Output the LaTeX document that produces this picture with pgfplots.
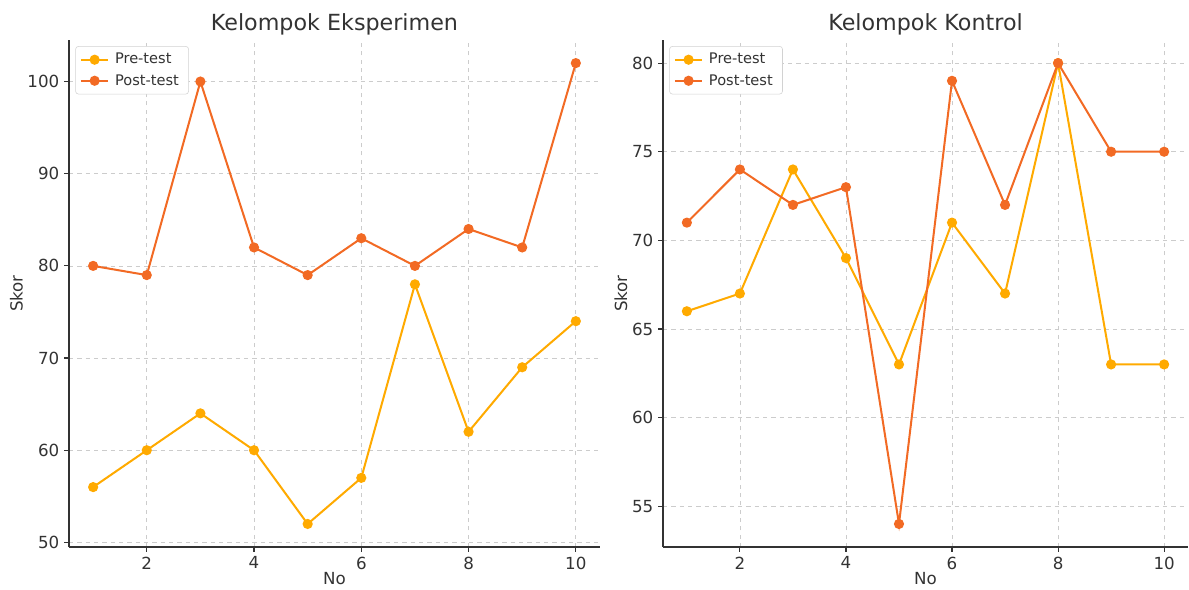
\documentclass[border=0pt]{standalone}
\usepackage{fontspec}
\setmainfont{DejaVu Sans}
\usepackage{pgfplots}
\pgfplotsset{compat=1.18}
\definecolor{preC}{HTML}{FFAA00}
\definecolor{postC}{HTML}{F26A24}
\definecolor{txt}{HTML}{333333}
\begin{document}
\begin{tikzpicture}
\useasboundingbox (0pt,0pt) rectangle (856.08pt,424.08pt);
\pgfplotsset{
  common/.style={
    /pgf/number format/assume math mode=true,
    scale only axis,
    height=365pt,
    axis x line*=bottom, axis y line*=left,
    axis line style={txt, line width=1pt},
    tick align=outside,
    major tick length=3.5pt,
    tick style={txt, line width=0.8pt},
    ticklabel style={font=\fontsize{12}{14}\selectfont, text=txt},
    label style={font=\fontsize{12}{14}\selectfont, text=txt},
    xlabel style={yshift=5pt},
    ylabel style={yshift=-3.5pt},
    title style={font=\fontsize{16}{19}\selectfont, text=txt, yshift=-6pt},
    grid=major,
    grid style={dashed, gray!40, line width=0.5pt},
    xmin=0.55, xmax=10.45,
    xtick={2,4,6,8,10},
    xlabel={No}, ylabel={Skor},
    legend cell align=left,
    legend style={at={(0.012,0.988)}, anchor=north west, font=\fontsize{10.5}{13}\selectfont,
      draw=gray!35, rounded corners=2pt, text=txt, row sep=2pt, inner sep=3pt,
      nodes={inner xsep=4pt}},
    legend image code/.code={\draw[mark repeat=2,mark phase=2] plot coordinates {(0cm,0cm) (0.35cm,0cm) (0.7cm,0cm)};},
    every axis plot/.append style={line width=1.45pt, mark=*, mark size=2.9pt},
  }
}
\begin{axis}[common, at={(49.68pt,30.24pt)}, anchor=south west, width=382.3pt,
  title={Kelompok Eksperimen},
  ymin=49.5, ymax=104.5, ytick={50,60,70,80,90,100}]
\addplot[preC, mark options={fill=preC, draw=preC}] coordinates {(1,56)(2,60)(3,64)(4,60)(5,52)(6,57)(7,78)(8,62)(9,69)(10,74)};
\addplot[postC, mark options={fill=postC, draw=postC}] coordinates {(1,80)(2,79)(3,100)(4,82)(5,79)(6,83)(7,80)(8,84)(9,82)(10,102)};
\legend{Pre-test, Post-test}
\end{axis}
\begin{axis}[common, at={(477.36pt,30.24pt)}, anchor=south west, width=378pt,
  title={Kelompok Kontrol},
  ymin=52.7, ymax=81.3, ytick={55,60,65,70,75,80}]
\addplot[preC, mark options={fill=preC, draw=preC}] coordinates {(1,66)(2,67)(3,74)(4,69)(5,63)(6,71)(7,67)(8,80)(9,63)(10,63)};
\addplot[postC, mark options={fill=postC, draw=postC}] coordinates {(1,71)(2,74)(3,72)(4,73)(5,54)(6,79)(7,72)(8,80)(9,75)(10,75)};
\legend{Pre-test, Post-test}
\end{axis}
\end{tikzpicture}
\end{document}
